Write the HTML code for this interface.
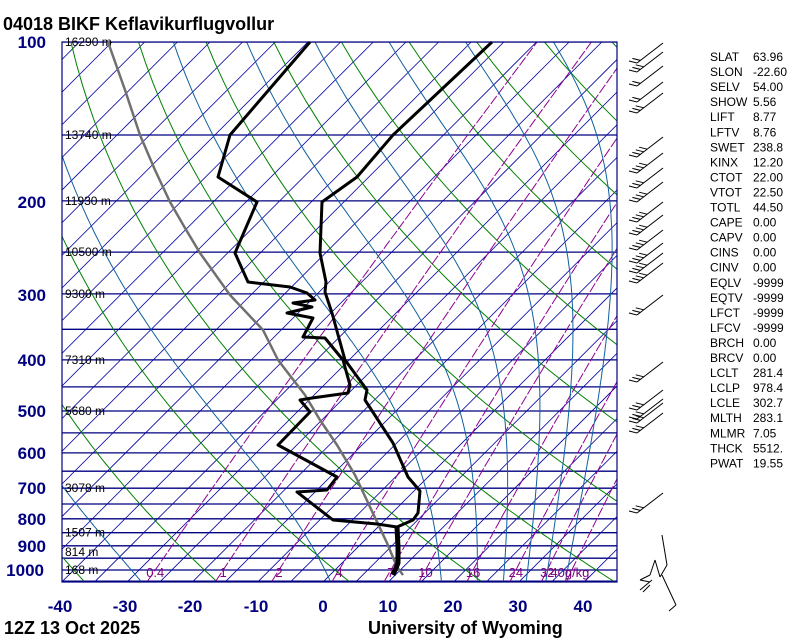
<!DOCTYPE html>
<html><head><meta charset="utf-8"><style>
html,body{margin:0;padding:0;background:#fff;width:800px;height:640px;overflow:hidden}
svg{display:block}
</style></head><body>
<svg id="s" width="800" height="640" xmlns="http://www.w3.org/2000/svg" font-family="Liberation Sans, sans-serif">
<defs><clipPath id="c"><rect x="62" y="42" width="555" height="540"/></clipPath></defs>
<g id="grid" clip-path="url(#c)"></g>
<rect x="62" y="42" width="555" height="540" fill="none" stroke="#000080" stroke-width="1.2"/>
<g id="hl" font-size="12" fill="#000"></g>
<g id="snd" fill="none" stroke-linejoin="round">
<polyline stroke="#707070" stroke-width="2.5" points="108,42 125,90 140,135 155,170 170,202 185,228 200,253 230,295 263,330 278,360 305,395 320,420 337,445 355,475 370,507 387,543 397,567 403,575"/>
<polyline stroke="#000" stroke-width="3" points="492,42 393,135 357,177 322,202 320,253 326,282 325,292 332,313 345,360 367,390 365,400 393,443 408,477 420,491 418,513 413,520 397,527"/>
<polyline stroke="#000" stroke-width="5" points="397,527 398,547 398,563 393,575"/>
<polyline stroke="#000" stroke-width="3" points="310,42 230,135 218,177 257,202 235,253 248,282 290,287 307,293 315,300 293,303 312,307 287,313 313,318 303,337 325,338 343,360 350,385 348,393 312,398 300,400 310,412 278,445 337,477 327,490 297,492 333,520 377,524 397,527"/>
</g>
<g id="barbs" stroke="#000" stroke-width="1" fill="none"></g>
<g font-size="17" font-weight="bold" fill="#000080" text-anchor="end">
<text x="46" y="48">100</text><text x="46" y="208">200</text><text x="46" y="301">300</text><text x="46" y="366">400</text><text x="46" y="417">500</text><text x="46" y="459">600</text><text x="46" y="494">700</text><text x="46" y="525">800</text><text x="46" y="552">900</text><text x="44" y="576">1000</text>
</g>
<g font-size="17" font-weight="bold" fill="#000080" text-anchor="middle">
<text x="60" y="612">-40</text><text x="125" y="612">-30</text><text x="190" y="612">-20</text><text x="256" y="612">-10</text><text x="323" y="612">0</text><text x="388" y="612">10</text><text x="453" y="612">20</text><text x="518" y="612">30</text><text x="583" y="612">40</text>
</g>
<text x="3" y="30" font-size="18" font-weight="bold">04018 BIKF Keflavikurflugvollur</text>
<text x="4" y="634" font-size="18" font-weight="bold">12Z 13 Oct 2025</text>
<text x="368" y="634" font-size="18" font-weight="bold">University of Wyoming</text>
<g id="tbl" font-size="12" fill="#000"></g>
</svg>
<script>
var NS="http://www.w3.org/2000/svg";
function Y(p){return 42+229.3*Math.log(p/100);}
function X(T,p){return 323+6.53*T+(582-Y(p));}
var g=document.getElementById('grid');
function line(pts,col,w,dash){var e=document.createElementNS(NS,'polyline');e.setAttribute('points',pts.map(function(a){return a[0].toFixed(1)+','+a[1].toFixed(1)}).join(' '));e.setAttribute('fill','none');e.setAttribute('stroke',col);e.setAttribute('stroke-width',w);if(dash)e.setAttribute('stroke-dasharray',dash);g.appendChild(e);}
for(var p=100;p<=1050;p+=50){line([[62,Y(p)],[617,Y(p)]],'#000080',1.3);}
for(var T=-160;T<=60;T+=5){line([[X(T,1050),Y(1050)],[X(T,100),Y(100)]],'#0000a0',0.8);}
var ps=[];for(var p=1050;p>=100;p-=10)ps.push(p);
for(var th=-120;th<=200;th+=20){var pts=ps.map(function(p){var t=(th+273.15)*Math.pow(p/1000,0.2857)-273.15;return [X(t,p),Y(p)];});line(pts,'#008000',1);}
function es(T){return 6.112*Math.exp(17.67*T/(T+243.5));}
var ws=[0.4,1,2,4,7,10,16,24,32,40];
ws.forEach(function(w){var pts=ps.map(function(p){var e=w*p/(622+w);var l=Math.log(e/6.112);var td=243.5*l/(17.67-l);return [X(td,p),Y(p)];});line(pts,'#900090',1,'10,2');});
[-28,1,18,23.5,27.5,31,34,37].forEach(function(T0){var T=T0+273.15,p=1050,pts=[[X(T0,p),Y(p)]];while(p>100){var tc=T-273.15;var e=es(tc);var rs=0.622*e/(p-e);var L=2.5e6,Rd=287,cp=1004;var dTdp=(Rd*T+L*rs)/(p*(cp+L*L*rs*0.622/(Rd*T*T)));T-=dTdp*5;p-=5;pts.push([X(T-273.15,p),Y(p)]);}line(pts,'#1060a0',1);});
var lab=document.getElementById('hl');
function txt(par,x,y,s,col,anchor,size){var t=document.createElementNS(NS,'text');t.setAttribute('x',x);t.setAttribute('y',y);t.textContent=s;if(col)t.setAttribute('fill',col);if(anchor)t.setAttribute('text-anchor',anchor);if(size)t.setAttribute('font-size',size);par.appendChild(t);}
ws.forEach(function(w){var p=1000,e=w*p/(622+w),l=Math.log(e/6.112),td=243.5*l/(17.67-l);var s=w==40?'40g/kg':String(w);txt(lab,X(td,p)-(w==40?2:0),577,s,'#800080','middle',13);});
[["16290 m",100],["13740 m",150],["11930 m",200],["10500 m",250],["9300 m",300],["7310 m",400],["5680 m",500],["3078 m",700],["1507 m",850],["814 m",925],["168 m",1000]].forEach(function(a){txt(lab,65,Y(a[1])+4,a[0]);});
var tb=document.getElementById('tbl');
var rows=[["SLAT","63.96"],["SLON","-22.60"],["SELV","54.00"],["SHOW","5.56"],["LIFT","8.77"],["LFTV","8.76"],["SWET","238.8"],["KINX","12.20"],["CTOT","22.00"],["VTOT","22.50"],["TOTL","44.50"],["CAPE","0.00"],["CAPV","0.00"],["CINS","0.00"],["CINV","0.00"],["EQLV","-9999"],["EQTV","-9999"],["LFCT","-9999"],["LFCV","-9999"],["BRCH","0.00"],["BRCV","0.00"],["LCLT","281.4"],["LCLP","978.4"],["LCLE","302.7"],["MLTH","283.1"],["MLMR","7.05"],["THCK","5512."],["PWAT","19.55"]];
rows.forEach(function(r,i){var y=61+i*15.05;txt(tb,710,y,r[0]);txt(tb,753,y,r[1]);});
var bg=document.getElementById('barbs');
function bl(x1,y1,x2,y2){var e=document.createElementNS(NS,'line');e.setAttribute('x1',x1);e.setAttribute('y1',y1);e.setAttribute('x2',x2);e.setAttribute('y2',y2);bg.appendChild(e);}
[[43,2],[52,3],[66,2],[82,2],[93,3],[137,4],[153,4],[168,3],[182,4],[202,4],[215,4],[230,4],[243,4],[253,4],[263,4],[295,3],[362,3],[390,3],[399,3],[403,3],[413,3],[493,3]].forEach(function(b){var tx=663,ty=b[0],bx=637,by=ty+20;bl(tx,ty,bx,by);for(var i=0;i<b[1];i++){var f=i*0.13;var px=bx+(tx-bx)*f,py=by+(ty-by)*f;bl(px,py,px-8,py-2);}});
bl(662,535,667,565);bl(667,565,660,577);bl(660,577,655,560);bl(655,560,650,575);bl(650,575,640,580);bl(640,580,650,582);bl(662,575,676,605);bl(676,605,669,611);bl(652,580,640,590);bl(650,585,643,592);
</script>
</body></html>
